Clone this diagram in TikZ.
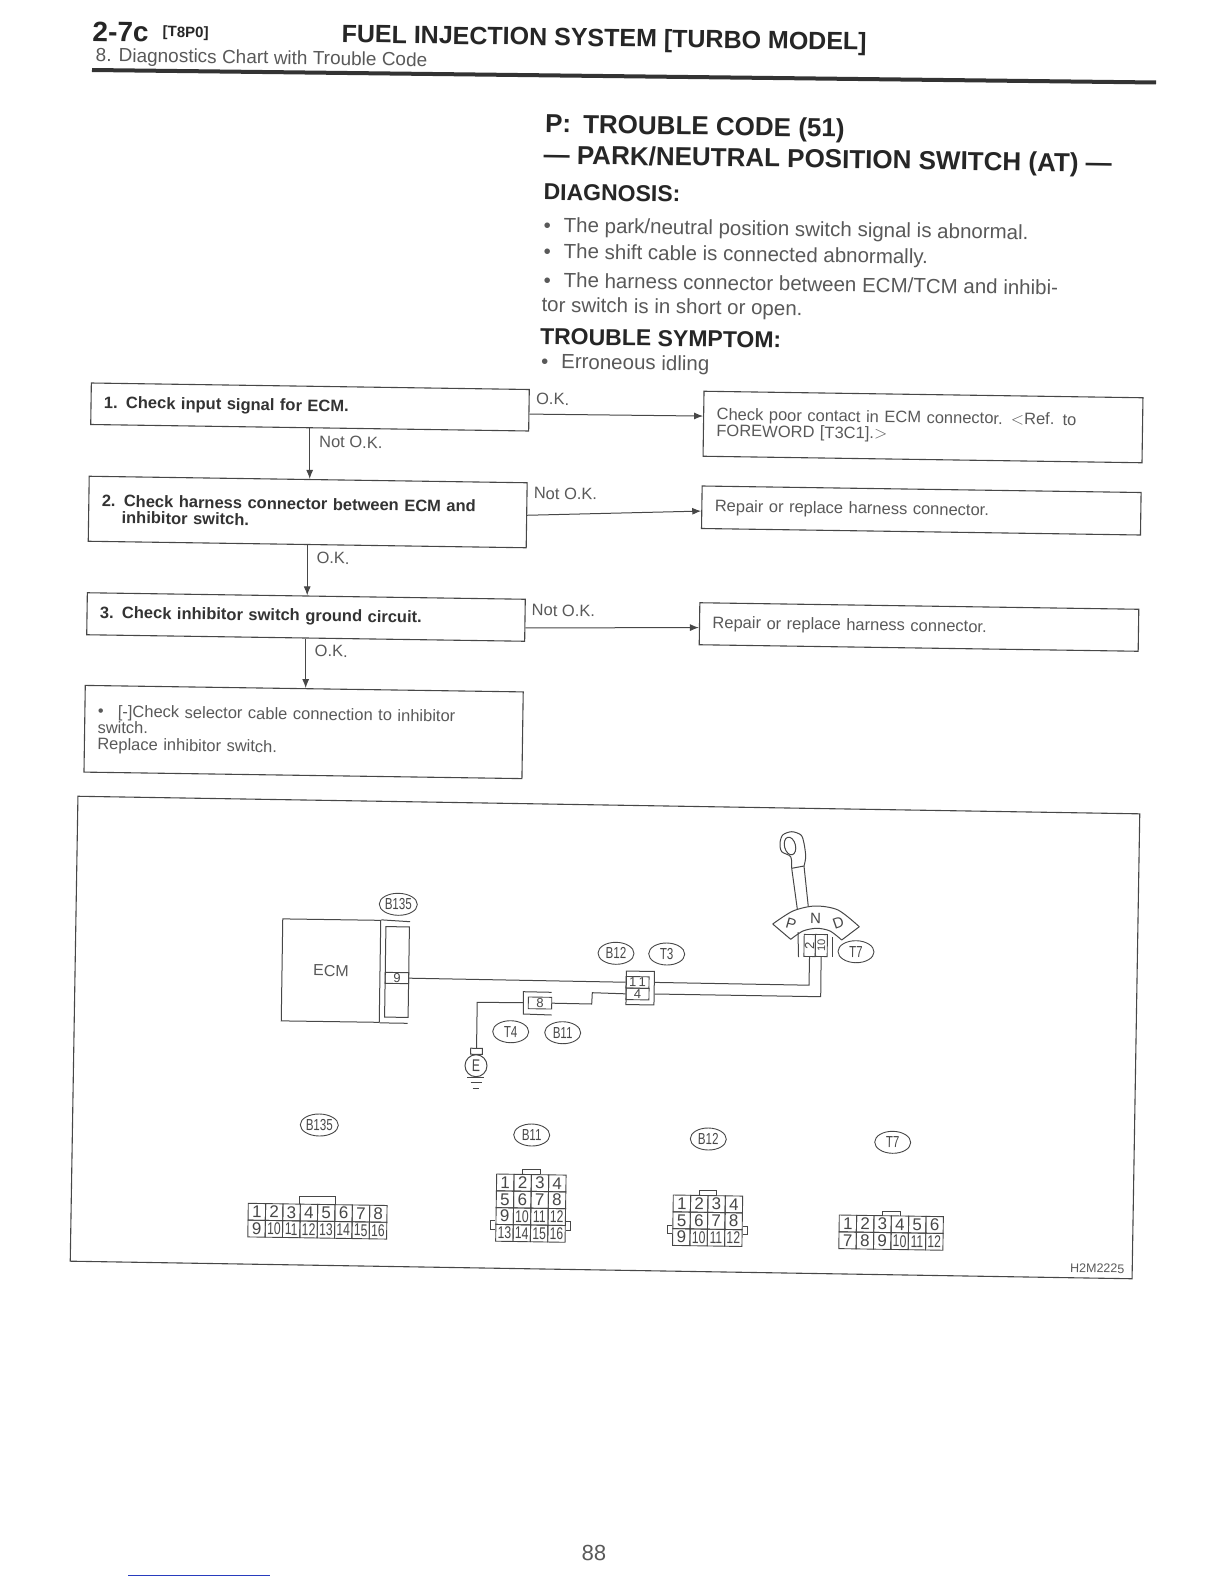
\documentclass[tikz,border=0pt]{standalone}
\usepackage{fontspec}
\setmainfont{Liberation Sans}
\newfontfamily\narrowfont[FakeStretch=0.72]{Liberation Sans}
\usetikzlibrary{arrows.meta,shapes.geometric,calc}
\definecolor{inkgray}{gray}{0.28}
\definecolor{textgray}{gray}{0.35}
\definecolor{linkblue}{RGB}{40,60,190}
\newcommand{\fsize}[1]{\fontsize{#1}{#1}\selectfont}
\newcommand{\bul}{\makebox[20pt][l]{\textbullet}}
\newcommand{\pingrid}[4]{%
  \begin{scope}[shift={(#2)},rotate=-0.9]
  \foreach \row in {1,...,#4} \foreach \col in {1,...,#3} {
    \pgfmathtruncatemacro{\pinno}{(\row-1)*#3+\col}
    \node[gridcell] (#1-\pinno) at ({(\col-0.5)*17.35},{(\row-0.5)*16.8}) {\ifnum\pinno>9 \narrowfont\fi\pinno};
  }
  \end{scope}}
\tikzset{
  txt/.style={anchor=west,inner sep=0pt,text=textgray,font=\fsize{20.5}},
  head/.style={anchor=west,inner sep=0pt,text=black!85,font=\fsize{23}\bfseries},
  lbl/.style={anchor=west,inner sep=0pt,text=textgray,font=\fsize{16.5}},
  chkbox/.style={draw=inkgray,line width=1.1pt,minimum width=438pt,text width=412pt,inner xsep=13pt,inner ysep=0pt,align=left,text=black!80,font=\fsize{16.5}\bfseries},
  fixbox/.style={draw=inkgray,line width=1.1pt,minimum width=439pt,text width=413pt,inner xsep=13pt,inner ysep=0pt,align=left,text=textgray,font=\fsize{16.5}},
  flow/.style={draw=inkgray,line width=1pt,-{Latex[length=9pt,width=7pt]}},
  wire/.style={draw=inkgray,line width=1pt},
  tagoval/.style={ellipse,draw=inkgray,line width=0.9pt,minimum width=36pt,minimum height=22pt,inner sep=0pt,text=inkgray,font=\narrowfont\fsize{16}},
  pinbox/.style={draw=inkgray,line width=0.9pt,inner sep=0pt,text=inkgray,font=\fsize{13}},
  gridcell/.style={draw=inkgray,line width=0.9pt,minimum width=17.35pt,minimum height=16.8pt,inner sep=0pt,text=inkgray,font=\fsize{17}},
}
\begin{document}
\begin{tikzpicture}[x=1pt,y=-1pt,every node/.append style={rotate=-0.85}]
\useasboundingbox (0,0) rectangle (1224,1584);

% page head
\node[anchor=west,inner sep=0pt,font=\fsize{28}\bfseries,text=black!85] (pageno) at (92.4,31.5) {2-7c};
\node[anchor=west,inner sep=0pt,font=\fsize{15}\bfseries,text=black!85] (pageref) at (162.6,33) {[T8P0]};
\node[anchor=west,inner sep=0pt,font=\fsize{25}\bfseries,text=black!85] (title) at (341.5,36) {FUEL INJECTION SYSTEM [TURBO MODEL]};
\node[anchor=west,inner sep=0pt,font=\fsize{19}\,,text=textgray] (subtitle) at (92.4,56.5) {8. Diagnostics Chart with Trouble Code};
\draw[line width=4pt,black!80] (92,70) -- (1156,82.5);

% trouble code text
\node[head,font=\fsize{26}\bfseries] (code) at (545,126) {P:\hspace{12pt}TROUBLE CODE (51)};
\node[head,font=\fsize{26}\bfseries] (codesub) at (543.5,157) {--- PARK/NEUTRAL POSITION SWITCH (AT) ---};
\node[head] (diag) at (543.5,192) {DIAGNOSIS:};
\node[txt] (diag1) at (543.5,227) {\bul The park/neutral position switch signal is abnormal.};
\node[txt] (diag2) at (543.5,253) {\bul The shift cable is connected abnormally.};
\node[txt] (diag3) at (543.5,280) {\bul The harness connector between ECM/TCM and inhibi-};
\node[txt] (diag4) at (541.4,306.5) {tor switch is in short or open.};
\node[head] (sympt) at (540,336.5) {TROUBLE SYMPTOM:};
\node[txt] (sympt1) at (541,363) {\bul Erroneous idling};

% chart
\node[chkbox,minimum height=41.5pt] (chk1) at (310,407) {1. Check input signal for ECM.};
\node[chkbox,minimum height=65pt] (chk2) at (307.7,512) {2. Check harness connector between ECM and\\\hspace*{20pt}inhibitor switch.};
\node[chkbox,minimum height=42pt] (chk3) at (306,617) {3. Check inhibitor switch ground circuit.};
\node[fixbox,minimum width=438pt,text width=412pt,minimum height=86.7pt] (chk4) at (303.6,732) {\bul[-]Check selector cable connection to inhibitor\\switch.\\Replace inhibitor switch.};
\node[fixbox,minimum height=65pt] (fix1) at (923,427) {Check poor contact in ECM connector. $<$Ref. to\\FOREWORD [T3C1].$>$};
\node[fixbox,minimum height=42.5pt] (fix2) at (921.3,510.5) {Repair or replace harness connector.};
\node[fixbox,minimum height=42pt] (fix3) at (919,627) {Repair or replace harness connector.};

\draw[flow] (chk1.south) -- (chk1.south |- chk2.north);
\draw[flow] (chk2.south) -- (chk2.south |- chk3.north);
\draw[flow] (chk3.south) -- (chk3.south |- chk4.north);
\draw[flow] (chk1.-1.8) -- (fix1.178.8);
\draw[flow] (chk2.0.9) -- (fix2.181.8);
\draw[flow] (chk3.-2) -- (fix3.181.6);

\node[lbl] (lok1) at (536,399) {O.K.};
\node[lbl] (lno2) at (533.7,493.3) {Not O.K.};
\node[lbl] (lno3) at (531.6,610) {Not O.K.};
\node[lbl] (lno1) at (319,441.7) {Not O.K.};
\node[lbl] (lok2) at (316.4,558) {O.K.};
\node[lbl] (lok3) at (314.6,651) {O.K.};

% wiring frame
\node[draw=inkgray,line width=1.1pt,minimum width=1062pt,minimum height=465pt,inner sep=0pt,rotate=-0.1] (frame) at (605,1037.5) {};
\node[anchor=west,inner sep=0pt,text=textgray,font=\fsize{12.5}] (figno) at (1070,1268) {H2M2225};

% ecm and connector B135
\node[draw=inkgray,line width=1pt,minimum width=98pt,minimum height=102pt,inner sep=0pt,text=textgray,font=\fsize{16}] (ecm) at (331,970.6) {ECM};
\draw[wire] (ecm.north east) -- (410,921.7);
\draw[wire] (ecm.south east) -- (407.7,1023.3);
\node[draw=inkgray,line width=1pt,minimum width=23.5pt,minimum height=90.5pt,inner sep=0pt] (b135in) at (397,972) {};
\node[pinbox,minimum width=23.5pt,minimum height=11pt] (pin9) at (397,978) {9};
\node[tagoval] (t135) at (398.3,904.3) {B135};

% connector B12/T3
\node[draw=inkgray,line width=1pt,minimum width=28pt,minimum height=33.5pt,inner sep=0pt] (b12out) at (640.2,988) {};
\node[pinbox,minimum width=23pt,minimum height=11.5pt] (pin11) at (637.5,982.4) {1\,1};
\node[pinbox,minimum width=23pt,minimum height=11.5pt] (pin4) at (637.5,994) {4};
\node[tagoval] (t12) at (616,953.3) {B12};
\node[tagoval] (t3) at (666.7,954) {T3};

% connector T4/B11 and ground
\node[pinbox,minimum width=23.4pt,minimum height=11.7pt] (pin8) at (540,1003) {8};
\draw[wire] (551.7,992.3) -- (523.3,991.7) -- (523.3,1014) -- (551.7,1015);
\coordinate (t4left) at (523.3,1002.7);
\node[tagoval] (t4) at (510.7,1031.7) {T4};
\node[tagoval] (t11) at (562.7,1032.7) {B11};
\node[draw=inkgray,line width=1pt,minimum width=11.6pt,minimum height=6pt,inner sep=0pt] (ecap) at (476.5,1051.3) {};
\node[circle,draw=inkgray,line width=1pt,minimum size=22pt,inner sep=0pt,text=inkgray,font=\narrowfont\fsize{17}] (gnd) at (476,1065.7) {E};
\draw[wire] (467.3,1077.3) -- (484,1077.3);
\draw[wire] (470.7,1082.7) -- (481.7,1082.7);
\draw[wire] (472.7,1088.3) -- (479.3,1088.3);

% selector lever
\draw[wire] plot[smooth] coordinates {(791.7,868.3)(790.7,856.7)(781.7,851.7)(780,843.3)(782.7,835)(791.7,831.7)(801,835)(804,843.3)(805.7,856.7)(804,866)};
\draw[wire] (791.7,868.3) -- (804,866);
\draw[wire,rotate around={14:(790,846)}] (790,846) ellipse (5.5 and 9);
\draw[wire] (791.7,868.3) -- (797.3,909);
\draw[wire] (804,866) -- (808.3,906.7);
\draw[wire] plot[smooth] coordinates {(772.7,924)(793,911)(815,906)(838,910)(859.3,926.7)};
\draw[wire] plot[smooth] coordinates {(790.7,939.3)(803,931)(816.7,928.3)(830,931)(841.7,940)};
\draw[wire] (772.7,924) -- (790.7,939.3);
\draw[wire] (859.3,926.7) -- (841.7,940);
\node[inner sep=0pt,text=inkgray,font=\fsize{15},rotate=-15] (gateP) at (791,924) {P};
\node[inner sep=0pt,text=inkgray,font=\fsize{15}] (gateN) at (815.7,918.3) {N};
\node[inner sep=0pt,text=inkgray,font=\fsize{15},rotate=20] (gateD) at (838.3,923.3) {D};
\draw[wire] (798,932) -- (798.5,957);
\draw[wire] (832.3,937) -- (832.3,957);
\node[pinbox,minimum width=11.3pt,minimum height=22pt] (pin2) at (809.7,945.5) {\rotatebox{90}{2}};
\node[pinbox,minimum width=12pt,minimum height=22pt] (pin10) at (821.3,945.5) {\rotatebox{90}{\fsize{11}10}};
\node[tagoval] (t7) at (856,951.7) {T7};

% wires
\coordinate (bend2) at (809,985.2);
\coordinate (bend10) at (820.7,996.7);
\coordinate (bendA) at (592.3,992.7);
\coordinate (bendB) at (591.7,1004);
\coordinate (bendE) at (477.2,1002.3);
\draw[wire] (pin9.east) -- (pin11.west);
\draw[wire] (pin11 -| b12out.east) -- (bend2) -- (pin2.south);
\draw[wire] (pin4 -| b12out.east) -- (bend10) -- (pin10.south);
\draw[wire] (pin8.east) -- (bendB) -- (bendA) -- (pin4.west);
\draw[wire] (t4left) -- (bendE) -- (ecap.north);

% connector faces
\node[tagoval] (f135) at (319.3,1125) {B135};
\node[tagoval] (f11) at (531.7,1135) {B11};
\node[tagoval] (f12) at (708.3,1139) {B12};
\node[tagoval] (f7) at (892.7,1142.3) {T7};
\pingrid{gB}{248.3,1203.3}{8}{2}
\pingrid{gC}{496.7,1174}{4}{4}
\pingrid{gD}{673.3,1195}{4}{3}
\pingrid{gT}{839.3,1215}{6}{2}
\draw[wire] (gB-4.north west) -- ++(0,-7.5) -| (gB-5.north east);
\draw[wire] (gC-2.north) -- ++(0,-4.5) -| (gC-3.north);
\draw[wire] (gD-2.north) -- ++(0,-4.5) -| (gD-3.north);
\draw[wire] (gT-3.north) -- ++(0,-3.5) -| (gT-4.north);
\draw[wire] (gC-9.south west) ++(0,-4) -- ++(-4.5,0) -- ++(0,8.5) -- ++(4.5,0);
\draw[wire] (gC-12.south east) ++(0,-4) -- ++(4.5,0) -- ++(0,8.5) -- ++(-4.5,0);
\draw[wire] (gD-5.south west) ++(0,-4) -- ++(-4.5,0) -- ++(0,8.5) -- ++(4.5,0);
\draw[wire] (gD-8.south east) ++(0,-4) -- ++(4.5,0) -- ++(0,8.5) -- ++(-4.5,0);

% page foot
\node[inner sep=0pt,text=textgray,font=\fsize{22}] (pagefoot) at (594,1553) {88};
\draw[linkblue,line width=1pt] (128,1575) -- (270,1575);
\end{tikzpicture}
\end{document}
